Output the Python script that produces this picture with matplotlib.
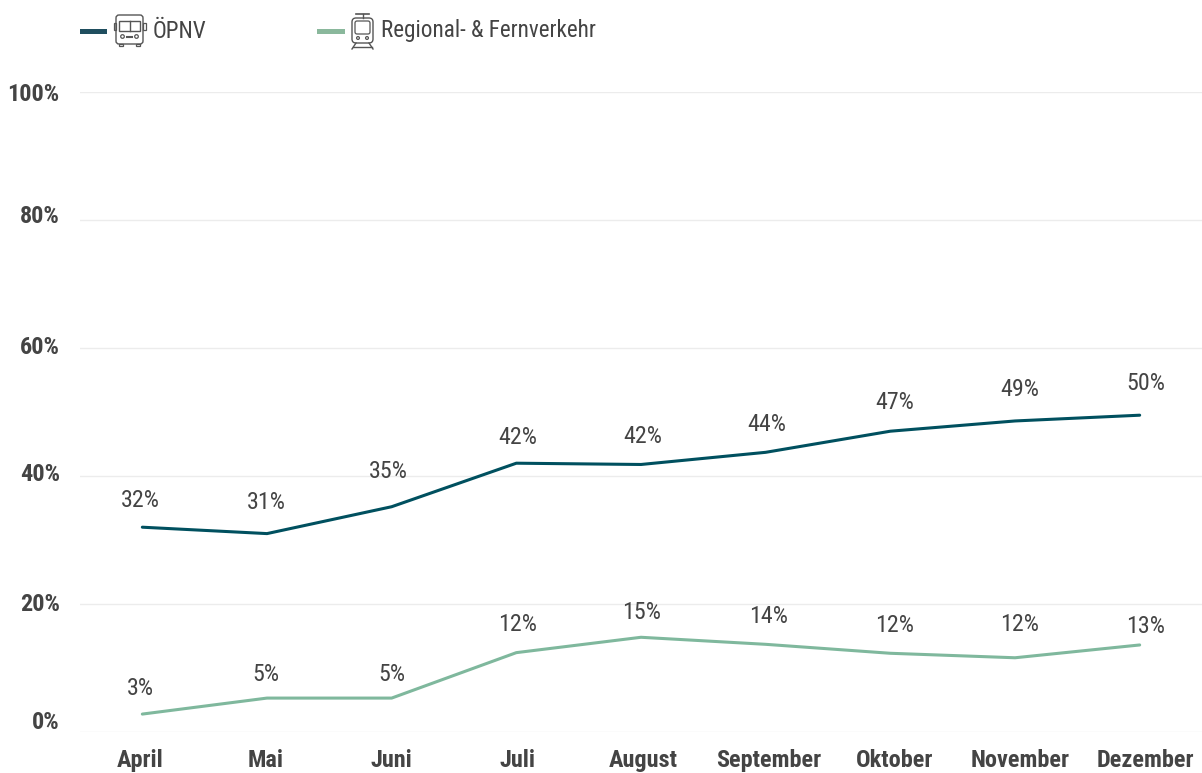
import matplotlib
matplotlib.use("Agg")
import matplotlib.pyplot as plt
from matplotlib.patches import FancyBboxPatch, Rectangle, Circle
from matplotlib.transforms import ScaledTranslation

monate = ["April", "Mai", "Juni", "Juli", "August", "September", "Oktober", "November", "Dezember"]
oepnv = [32.0, 31.0, 35.2, 42.0, 41.8, 43.7, 47.0, 48.6, 49.5]
regional = [2.8, 5.3, 5.3, 12.4, 14.8, 13.7, 12.3, 11.6, 13.6]
oepnv_labels = ["32%", "31%", "35%", "42%", "42%", "44%", "47%", "49%", "50%"]
regional_labels = ["3%", "5%", "5%", "12%", "15%", "14%", "12%", "12%", "13%"]
y_ticks = [0, 20, 40, 60, 80, 100]

# abstand label zur linie in pixel
oepnv_gap = [27, 31, 35, 26, 28, 28, 29, 31, 32]
regional_gap = [26, 24, 24, 28, 25, 28, 28, 33, 18]
# x versatz der labels in pixel, labels haben im original anderes raster als die linien
oepnv_dx = [-2, -1, -3, 1, 2, 1, 4, 5, 6]
regional_dx = [-2, -1, 0, 1, 1, 3, 4, 5, 6]
tick_dx = [-2, -1, 0, 1, 2, 3, 4, 5, 6]
# versatz der y labels in pixel, im original nicht genau auf der linie
y_label_shift = [12, 2, 4, 3, 6, 0]

plt.rcParams["font.family"] = ["Roboto Condensed", "Roboto", "DejaVu Sans"]

DARK = "#00505f"
GREEN = "#7fb89d"
TEXT = "#444444"
W, H = 1202, 773

fig = plt.figure(figsize=(W / 100, H / 100), dpi=100)
ax = fig.add_axes([80 / W, 1 - 732 / H, (W - 80) / W, 640 / H])

ax.plot(range(9), oepnv, color=DARK, lw=2.2, solid_capstyle="round")
ax.plot(range(9), regional, color=GREEN, lw=2.2, solid_capstyle="round")

for i in range(9):
    ax.annotate(oepnv_labels[i], (i, oepnv[i]), xytext=(oepnv_dx[i] * 0.72, oepnv_gap[i] * 0.72),
                textcoords="offset points", ha="center", va="center", fontsize=17.3, color=TEXT)
    ax.annotate(regional_labels[i], (i, regional[i]), xytext=(regional_dx[i] * 0.72, regional_gap[i] * 0.72),
                textcoords="offset points", ha="center", va="center", fontsize=17.3, color=TEXT)

ax.set_xlim(-0.5, 8.5)
ax.set_ylim(0, 100)
ax.set_xticks(range(9))
ax.set_xticklabels(monate, fontsize=17.5, fontweight="bold", color=TEXT)
ax.set_yticks(y_ticks)
ax.set_yticklabels([str(v) + "%" for v in y_ticks], fontsize=17.5, fontweight="bold", color=TEXT)
ax.tick_params(length=0)
ax.tick_params(axis="x", pad=12)
ax.tick_params(axis="y", pad=14.5)
ax.grid(axis="y", color="#ececec", lw=1)
ax.set_axisbelow(True)
for s in ["top", "right", "left", "bottom"]:
    ax.spines[s].set_visible(False)
ax.patch.set_alpha(0)

for lab, shift in zip(ax.get_yticklabels(), y_label_shift):
    lab.set_transform(lab.get_transform() + ScaledTranslation(0, shift / 100, fig.dpi_scale_trans))
for lab, shift in zip(ax.get_xticklabels(), tick_dx):
    lab.set_transform(lab.get_transform() + ScaledTranslation(shift / 100, 0, fig.dpi_scale_trans))

# legende mit icons, overlay in pixel
ov = fig.add_axes([0, 0, 1, 1])
ov.set_xlim(0, W)
ov.set_ylim(H, 0)
ov.axis("off")
ov.patch.set_alpha(0)

ICON = "#555555"
ov.add_patch(Rectangle((80, 29), 27, 5, color="#1f4e5f", lw=0))
ov.add_patch(Rectangle((317, 29), 28, 5, color="#8ab89c", lw=0))

# bus
ov.add_patch(FancyBboxPatch((116, 15), 27, 29, boxstyle="round,pad=0,rounding_size=3", fc="none", ec=ICON, lw=1))
ov.add_patch(Rectangle((119, 21), 21, 10, fc="none", ec=ICON, lw=1))
ov.plot([129.5, 129.5], [21, 31], color=ICON, lw=1)
ov.plot([127, 132], [36.5, 36.5], color=ICON, lw=1.5)
ov.add_patch(Circle((122.5, 36.5), 1.8, fc="none", ec=ICON, lw=0.9))
ov.add_patch(Circle((136.5, 36.5), 1.8, fc="none", ec=ICON, lw=0.9))
ov.add_patch(Rectangle((113.5, 23), 2.5, 7, fc="none", ec=ICON, lw=0.9))
ov.add_patch(Rectangle((143, 23), 2.5, 7, fc="none", ec=ICON, lw=0.9))
ov.add_patch(Rectangle((119, 44), 4, 2, fc="none", ec=ICON, lw=0.9))
ov.add_patch(Rectangle((136, 44), 4, 2, fc="none", ec=ICON, lw=0.9))

# tram
ov.add_patch(FancyBboxPatch((352, 18), 21, 25, boxstyle="round,pad=0,rounding_size=4", fc="none", ec=ICON, lw=1))
ov.add_patch(FancyBboxPatch((355, 21), 15, 13, boxstyle="round,pad=0,rounding_size=2", fc="none", ec=ICON, lw=0.9))
ov.plot([356, 369], [14, 14], color=ICON, lw=1.2)
ov.plot([362.5, 362.5], [14, 18], color=ICON, lw=1)
ov.add_patch(Circle((358, 38), 1.4, fc="none", ec=ICON, lw=0.9))
ov.add_patch(Circle((367, 38), 1.4, fc="none", ec=ICON, lw=0.9))
ov.plot([356, 352], [43, 49], color=ICON, lw=1)
ov.plot([369, 373], [43, 49], color=ICON, lw=1)
ov.plot([353, 372], [47, 47], color=ICON, lw=1)

ov.text(153, 32, "ÖPNV", fontsize=16.7, color=TEXT, va="center", ha="left")
ov.text(381, 31, "Regional- & Fernverkehr", fontsize=16.7, color=TEXT, va="center", ha="left")

fig.savefig("out.png", dpi=100)
